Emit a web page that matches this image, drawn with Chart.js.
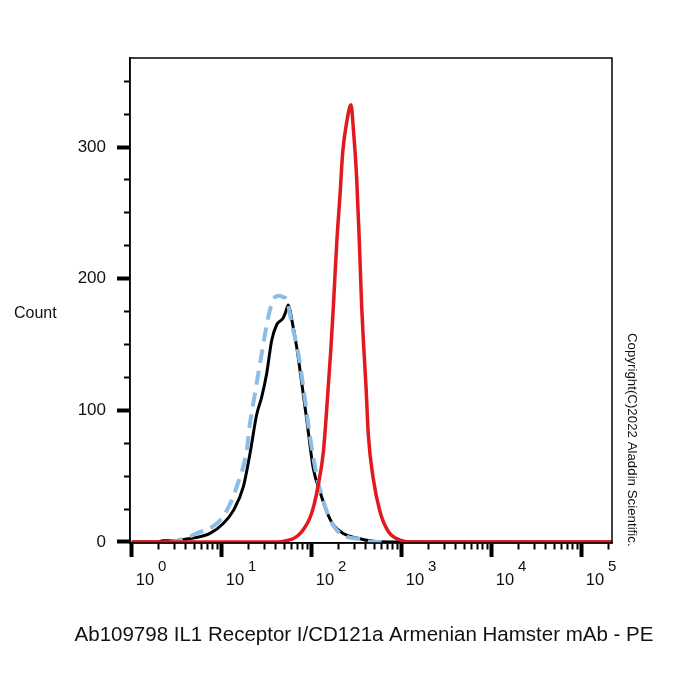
<!DOCTYPE html>
<html>
<head>
<meta charset="utf-8">
<script src="https://cdn.jsdelivr.net/npm/chart.js@4.4.1/dist/chart.umd.min.js"></script>
<style>
  html, body { margin:0; padding:0; background:#fff; }
  #wrap { width:700px; height:700px; position:relative; }
</style>
</head>
<body>
<div id="wrap"><canvas id="chart"></canvas></div>
<script>
// Histogram values (x = PE intensity, y = count)
const blackX = [1, 1.9, 2.23, 2.9, 3.8, 4.84, 7.41, 10.4, 13.5, 17.4, 20.6, 24.5, 27.8, 31.6, 35.9, 40.8, 45, 48, 51, 55, 60, 68.1, 77.4, 88, 104, 124, 147, 174, 224, 316, 483, 741, 217000];
const blackY = [0, 0, 1, 1, 2, 3, 6.5, 14, 24, 42, 67, 97, 110, 128, 153, 165, 168, 170, 174, 180, 169, 148, 121, 93, 56, 38, 23, 13, 6.5, 3, 0.5, 0, 0];

const blueX = [2.6, 3.44, 5.28, 8.8, 11.4, 14.7, 19, 20.6, 22.4, 27.8, 32.9, 37.4, 43.3, 48.4, 52.7, 60.4, 71, 84.3, 95.7, 114, 135, 160, 190, 245, 374, 468, 600];
const blueY = [0, 1.5, 6.5, 14, 24, 42, 70, 90, 105, 143, 171, 184, 187, 186, 184, 165, 143, 108, 80, 50, 31, 17, 9, 4, 2, 0, 0];

const redX = [1, 42, 52, 62, 72, 82, 95, 106, 118, 135, 153, 163, 174, 190, 206, 221, 245, 273, 290, 316, 338, 359, 377, 401, 426, 483, 574, 710, 957, 1237, 217000];
const redY = [0, 0, 1, 2.5, 5.5, 10, 18, 28, 43, 69, 119, 146, 179, 228, 263, 296, 319, 332, 314, 276, 228, 179, 150, 118, 81, 48, 23, 8, 1.5, 0, 0];

const decades = [0, 1, 2, 3, 4, 5];
const yMajor = [0, 100, 200, 300];
const yStep = 25;

const xTitle = 'Ab109798 IL1 Receptor I/CD121a Armenian Hamster mAb - PE';
const yTitle = 'Count';
const copyright = 'Copyright(C)2022 Aladdin Scientific.';

const FONT = '"Liberation Sans", Arial, Helvetica, sans-serif';

const pts = (xs, ys) => xs.map((x, i) => ({ x, y: ys[i] }));
const isDecade = v => Math.abs(Math.log10(v) - Math.round(Math.log10(v))) < 1e-9;

// text that Chart.js can't place the way the figure does
const textPlugin = {
  id: 'figText',
  afterDraw(chart) {
    const { ctx, chartArea: a, scales: { x } } = chart;
    ctx.save();
    // frame round the plot
    ctx.strokeStyle = '#000';
    ctx.lineWidth = 1.5;
    ctx.strokeRect(a.left, a.top, a.right - a.left, a.bottom - a.top);

    ctx.fillStyle = '#111';
    ctx.textBaseline = 'alphabetic';
    ctx.textAlign = 'left';
    decades.forEach(e => {
      const px = x.getPixelForValue(Math.pow(10, e));
      ctx.font = '16.5px ' + FONT;
      ctx.fillText('10', px + 4, 585);
      const w = ctx.measureText('10').width;
      ctx.font = '15px ' + FONT;
      ctx.fillText(String(e), px + 4 + w + 4, 571);
    });

    ctx.font = '16px ' + FONT;
    ctx.fillText(yTitle, 14, 318);

    ctx.font = '20.5px ' + FONT;
    ctx.textAlign = 'center';
    ctx.fillText(xTitle, 364, 641);

    ctx.translate(632, 333);
    ctx.rotate(Math.PI / 2);
    ctx.font = '13.3px ' + FONT;
    ctx.textAlign = 'left';
    ctx.textBaseline = 'middle';
    ctx.fillText(copyright, 0, 0);
    ctx.restore();
  }
};

new Chart(document.getElementById('chart'), {
  type: 'line',
  data: {
    datasets: [
      { data: pts(redX, redY), borderColor: '#e2191d', borderWidth: 3.5, order: 0 },
      { data: pts(blueX, blueY), borderColor: '#8bbde6', borderWidth: 4, borderDash: [14, 8], order: 1 },
      { data: pts(blackX, blackY), borderColor: '#000000', borderWidth: 3, order: 2 }
    ]
  },
  options: {
    responsive: true,
    maintainAspectRatio: false,
    animation: false,
    layout: { padding: { top: 58, right: 88, left: 0, bottom: 0 } },
    elements: {
      point: { radius: 0 },
      line: { cubicInterpolationMode: 'monotone', fill: false }
    },
    plugins: { legend: { display: false }, tooltip: { enabled: false } },
    scales: {
      x: {
        type: 'logarithmic',
        min: 0.957,
        max: 217000,
        afterBuildTicks: s => {
          const t = [];
          for (let e = 0; e <= 5; e++) {
            for (let m = 1; m <= 9; m++) {
              const v = m * Math.pow(10, e);
              if (v >= s.min && v <= s.max) t.push({ value: v });
            }
          }
          s.ticks = t;
        },
        afterFit: s => { s.height = 157; },
        ticks: { display: false },
        border: { display: true, color: '#000', width: 1.5 },
        grid: {
          drawOnChartArea: false,
          tickLength: 14,
          tickColor: '#000',
          tickWidth: c => (c.tick && isDecade(c.tick.value)) ? 4 : 2,
          tickBorderDash: c => (c.tick && isDecade(c.tick.value)) ? [] : [6, 40]
        }
      },
      y: {
        min: -0.76,
        max: 367.6,
        afterBuildTicks: s => {
          const t = [];
          for (let v = 0; v <= 350; v += yStep) t.push({ value: v });
          s.ticks = t;
        },
        afterFit: s => { s.width = 130; },
        ticks: {
          color: '#111',
          font: { family: FONT, size: 17 },
          padding: 11,
          callback: v => yMajor.includes(v) ? String(v) : ''
        },
        border: { display: true, color: '#000', width: 1.5 },
        grid: {
          drawOnChartArea: false,
          tickLength: 13,
          tickColor: '#000',
          tickWidth: c => (c.tick && yMajor.includes(c.tick.value)) ? 4 : 2,
          tickBorderDash: c => (c.tick && yMajor.includes(c.tick.value)) ? [] : [0, 7, 6, 40]
        }
      }
    }
  },
  plugins: [textPlugin]
});
</script>
</body>
</html>
